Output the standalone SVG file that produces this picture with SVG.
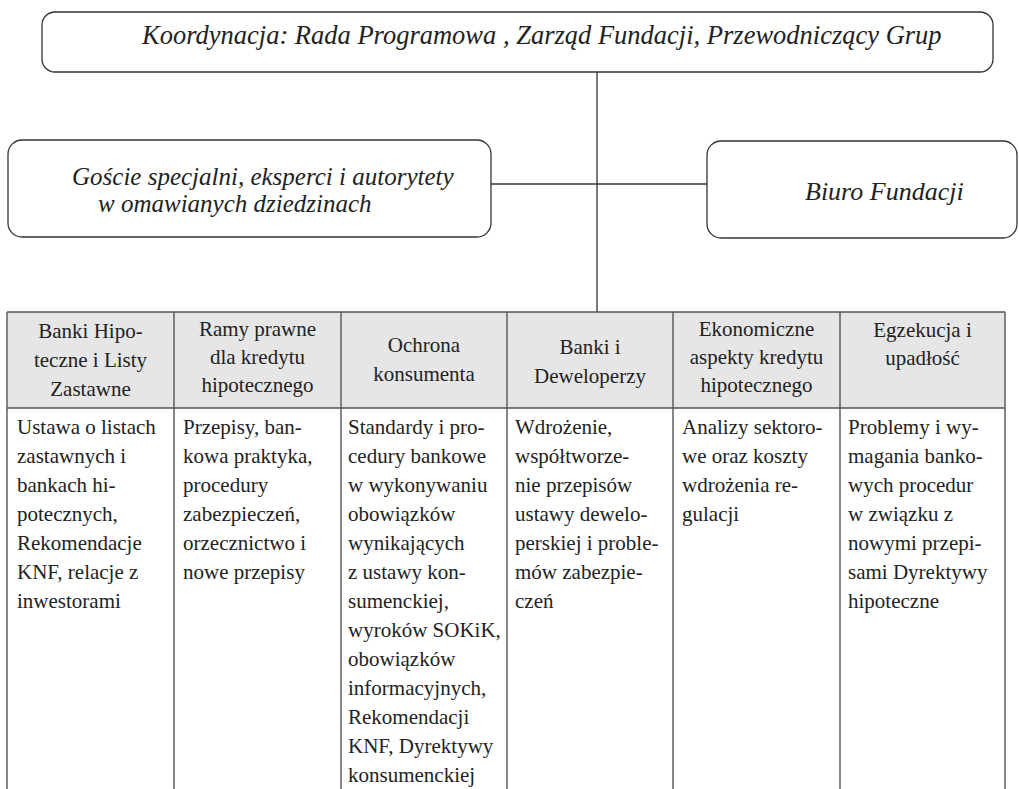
<svg xmlns="http://www.w3.org/2000/svg" width="1019" height="789" viewBox="0 0 1019 789">
<style>
.box{fill:#fff;stroke:#333;stroke-width:1.3}
.conn{stroke:#333;stroke-width:1.3;fill:none}
.cell{stroke:#555;stroke-width:1.4;fill:none}
.hdr{fill:#e6e6e6}
</style>
<rect width="1019" height="789" fill="#fff"/>
<g id="connectors">
<line class="conn" x1="597" y1="72" x2="597" y2="312"/>
<line class="conn" x1="491" y1="184" x2="707" y2="184"/>
</g>
<g id="node-koordynacja">
<rect class="box" x="42" y="12" width="951" height="60" rx="13"/>
<text x="142" y="44" font-family="Liberation Serif" font-style="italic" font-size="26.5" fill="#222">Koordynacja: Rada Programowa , Zarząd Fundacji, Przewodniczący Grup</text>
</g>
<g id="node-goscie" font-family="Liberation Serif" font-style="italic" font-size="25" fill="#222">
<rect class="box" x="8" y="140" width="483" height="97" rx="14"/>
<text x="72" y="185">Goście specjalni, eksperci i autorytety</text>
<text x="98" y="212">w omawianych dziedzinach</text>
</g>
<g id="node-biuro">
<rect class="box" x="707" y="141" width="310" height="97" rx="14"/>
<text x="805" y="200" font-family="Liberation Serif" font-style="italic" font-size="26" fill="#222">Biuro Fundacji</text>
</g>
<g id="node-table">
<rect class="hdr" x="7" y="312" width="998" height="96"/>
<line class="cell" x1="7" y1="312" x2="1005" y2="312"/>
<line class="cell" x1="7" y1="408" x2="1005" y2="408"/>
<line class="cell" x1="7" y1="312" x2="7" y2="789"/>
<line class="cell" x1="174" y1="312" x2="174" y2="789"/>
<line class="cell" x1="341" y1="312" x2="341" y2="789"/>
<line class="cell" x1="507" y1="312" x2="507" y2="789"/>
<line class="cell" x1="673" y1="312" x2="673" y2="789"/>
<line class="cell" x1="840" y1="312" x2="840" y2="789"/>
<line class="cell" x1="1005" y1="312" x2="1005" y2="789"/>
<g id="col1" font-family="Liberation Serif" font-size="21" fill="#222">
<g text-anchor="middle">
<text x="90.5" y="338">Banki Hipo-</text>
<text x="90.5" y="367">teczne i Listy</text>
<text x="90.5" y="396">Zastawne</text>
</g>
<text x="17" y="434">Ustawa o listach</text>
<text x="17" y="463">zastawnych i</text>
<text x="17" y="492">bankach hi-</text>
<text x="17" y="521">potecznych,</text>
<text x="17" y="550">Rekomendacje</text>
<text x="17" y="579">KNF, relacje z</text>
<text x="17" y="608">inwestorami</text>
</g>
<g id="col2" font-family="Liberation Serif" font-size="21" fill="#222">
<g text-anchor="middle">
<text x="257.5" y="336">Ramy prawne</text>
<text x="257.5" y="364">dla kredytu</text>
<text x="257.5" y="392">hipotecznego</text>
</g>
<text x="183" y="434">Przepisy, ban-</text>
<text x="183" y="463">kowa praktyka,</text>
<text x="183" y="492">procedury</text>
<text x="183" y="521">zabezpieczeń,</text>
<text x="183" y="550">orzecznictwo i</text>
<text x="183" y="579">nowe przepisy</text>
</g>
<g id="col3" font-family="Liberation Serif" font-size="21" fill="#222">
<g text-anchor="middle">
<text x="424" y="352">Ochrona</text>
<text x="424" y="381">konsumenta</text>
</g>
<text x="348" y="434">Standardy i pro-</text>
<text x="348" y="463">cedury bankowe</text>
<text x="348" y="492">w wykonywaniu</text>
<text x="348" y="521">obowiązków</text>
<text x="348" y="550">wynikających</text>
<text x="348" y="579">z ustawy kon-</text>
<text x="348" y="608">sumenckiej,</text>
<text x="348" y="637">wyroków SOKiK,</text>
<text x="348" y="666">obowiązków</text>
<text x="348" y="695">informacyjnych,</text>
<text x="348" y="724">Rekomendacji</text>
<text x="348" y="753">KNF, Dyrektywy</text>
<text x="348" y="782">konsumenckiej</text>
</g>
<g id="col4" font-family="Liberation Serif" font-size="21" fill="#222">
<g text-anchor="middle">
<text x="590" y="354">Banki i</text>
<text x="590" y="383">Deweloperzy</text>
</g>
<text x="515" y="434">Wdrożenie,</text>
<text x="515" y="463">współtworze-</text>
<text x="515" y="492">nie przepisów</text>
<text x="515" y="521">ustawy dewelo-</text>
<text x="515" y="550">perskiej i proble-</text>
<text x="515" y="579">mów zabezpie-</text>
<text x="515" y="608">czeń</text>
</g>
<g id="col5" font-family="Liberation Serif" font-size="21" fill="#222">
<g text-anchor="middle">
<text x="756.5" y="336">Ekonomiczne</text>
<text x="756.5" y="364">aspekty kredytu</text>
<text x="756.5" y="392">hipotecznego</text>
</g>
<text x="682" y="434">Analizy sektoro-</text>
<text x="682" y="463">we oraz koszty</text>
<text x="682" y="492">wdrożenia re-</text>
<text x="682" y="521">gulacji</text>
</g>
<g id="col6" font-family="Liberation Serif" font-size="21" fill="#222">
<g text-anchor="middle">
<text x="922.5" y="337">Egzekucja i</text>
<text x="922.5" y="365">upadłość</text>
</g>
<text x="848" y="434">Problemy i wy-</text>
<text x="848" y="463">magania banko-</text>
<text x="848" y="492">wych procedur</text>
<text x="848" y="521">w związku z</text>
<text x="848" y="550">nowymi przepi-</text>
<text x="848" y="579">sami Dyrektywy</text>
<text x="848" y="608">hipoteczne</text>
</g>
</g>
</svg>
